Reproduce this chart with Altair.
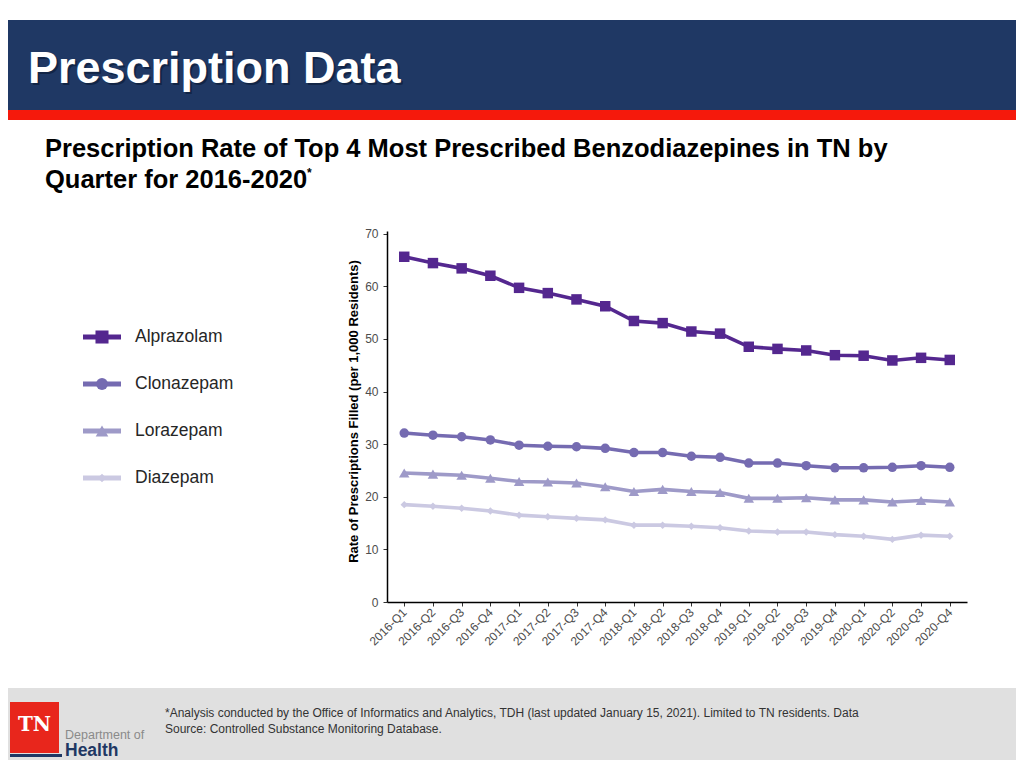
import altair as alt
import pandas as pd

# ---------------- data ----------------
quarters = ["2016-Q1", "2016-Q2", "2016-Q3", "2016-Q4",
            "2017-Q1", "2017-Q2", "2017-Q3", "2017-Q4",
            "2018-Q1", "2018-Q2", "2018-Q3", "2018-Q4",
            "2019-Q1", "2019-Q2", "2019-Q3", "2019-Q4",
            "2020-Q1", "2020-Q2", "2020-Q3", "2020-Q4"]
series_names = ["Alprazolam", "Clonazepam", "Lorazepam", "Diazepam"]
alprazolam = [65.6, 64.4, 63.4, 62.0, 59.7, 58.7, 57.5, 56.2, 53.4, 53.0,
              51.4, 51.0, 48.5, 48.1, 47.8, 46.9, 46.8, 45.9, 46.4, 46.0]
clonazepam = [32.1, 31.7, 31.4, 30.8, 29.8, 29.6, 29.5, 29.2, 28.4, 28.4,
              27.7, 27.5, 26.4, 26.4, 25.9, 25.5, 25.5, 25.6, 25.9, 25.6]
lorazepam = [24.5, 24.3, 24.1, 23.5, 22.9, 22.8, 22.6, 21.9, 21.0, 21.4,
             21.0, 20.8, 19.7, 19.7, 19.8, 19.4, 19.4, 19.0, 19.3, 19.0]
diazepam = [18.5, 18.2, 17.8, 17.3, 16.5, 16.2, 15.9, 15.6, 14.6, 14.6,
            14.4, 14.1, 13.5, 13.3, 13.3, 12.8, 12.5, 11.9, 12.7, 12.5]
y_ticks = [0, 10, 20, 30, 40, 50, 60, 70]

header_text = "Prescription Data"
subtitle_lines = ["Prescription Rate of Top 4 Most Prescribed Benzodiazepines in TN by",
                  "Quarter for 2016-2020"]
y_title = "Rate of Prescriptions Filled (per 1,000 Residents)"
footnote_lines = ["*Analysis conducted by the Office of Informatics and Analytics, TDH (last updated January 15, 2021). Limited to TN residents. Data",
                  "Source: Controlled Substance Monitoring Database."]

rows = []
for name, vals in zip(series_names, [alprazolam, clonazepam, lorazepam, diazepam]):
    for q, v in zip(quarters, vals):
        rows.append({"quarter": q, "series": name, "value": v})
df = pd.DataFrame(rows)
legend_df = pd.DataFrame({"series": series_names})

# ---------------- styles ----------------
FONT = "Liberation Sans"
series_colors = ["#54278f", "#756bb1", "#9e9ac8", "#cbc9e2"]
NAVY = "#1f3864"
color_scale = alt.Scale(domain=series_names, range=series_colors)
color_enc = alt.Color("series:N", scale=color_scale, legend=None)

shape_expr = ("datum.series === 'Alprazolam' ? 'square' : "
              "datum.series === 'Clonazepam' ? 'circle' : "
              "datum.series === 'Lorazepam' ? 'triangle-up' : 'diamond'")

one = pd.DataFrame({"k": [0]})


def rect(x1, x2, y1, y2, color):
    return alt.Chart(one).mark_rect(color=color).encode(
        x=alt.value(x1), x2=alt.value(x2), y=alt.value(y1), y2=alt.value(y2))


def text(s, x, y, **kw):
    return alt.Chart(pd.DataFrame({"t": [s]})).mark_text(
        baseline="alphabetic", **kw).encode(
        text="t:N", x=alt.value(x), y=alt.value(y))


decor = [
    rect(-387, 637, -211, -121, NAVY),
    rect(-387, 637, -121, -111, "#f5190c"),
    text(header_text, -357, -146, align="left", font=FONT, fontSize=45,
         fontWeight="bold", color="#0a1a33", opacity=0.6),
    text(header_text, -359, -148, align="left", font=FONT, fontSize=45,
         fontWeight="bold", color="white"),
    text(subtitle_lines[0], -342, -74, align="left", font=FONT, fontSize=25.5,
         fontWeight="bold", color="black"),
    text(subtitle_lines[1], -342, -43, align="left", font=FONT, fontSize=25.5,
         fontWeight="bold", color="black"),
    text("*", -80, -54, align="left", font=FONT, fontSize=12,
         fontWeight="bold", color="black"),
    rect(-387, 637, 457, 537, "#e0e0e0"),
    rect(-377, -328, 471, 522, "#e8261c"),
    rect(-377, -325, 523, 526, NAVY),
    text("TN", -352.5, 500, align="center", font="DejaVu Serif", fontSize=20,
         fontWeight="bold", color="white"),
    text("Department of", -322, 508, align="left", font=FONT, fontSize=12.5,
         color="#8a8a8a"),
    text("Health", -322, 525, align="left", font=FONT, fontSize=17.5,
         fontWeight="bold", color=NAVY),
    text(footnote_lines[0], -222, 486, align="left", font=FONT, fontSize=12,
         color="#333333"),
    text(footnote_lines[1], -222, 502, align="left", font=FONT, fontSize=12,
         color="#333333"),
]

# ---------------- main plot ----------------
x_enc = alt.X("quarter:N", sort=quarters,
              scale=alt.Scale(type="point", padding=0.6),
              axis=alt.Axis(title=None, labelAngle=-45, labelAlign="right",
                            labelBaseline="middle", labelPadding=4))
y_enc = alt.Y("value:Q", scale=alt.Scale(domain=[0, 70.5], nice=False),
              axis=alt.Axis(values=y_ticks, title=y_title, labelPadding=5,
                            titlePadding=4, titleY=180))

base = alt.Chart(df).encode(x=x_enc, y=y_enc, color=color_enc)
lines = base.mark_line(strokeWidth=3.6)

size_expr = ("datum.series === 'Alprazolam' ? 110 : "
             "datum.series === 'Clonazepam' ? 90 : "
             "datum.series === 'Lorazepam' ? 110 : 55")
points = base.transform_calculate(shp=shape_expr, sz=size_expr).mark_point(
    filled=True, opacity=1).encode(
    shape=alt.Shape("shp:N", scale=None, legend=None),
    size=alt.Size("sz:Q", scale=None, legend=None))

data_layer = alt.layer(lines, points)

# ---------------- legend (own point scale for rows) ----------------
legend_y = alt.Y("series:N", sort=series_names,
                 scale=alt.Scale(type="point", domain=series_names,
                                 range=[106, 247], padding=0),
                 axis=None)
lg_base = alt.Chart(legend_df).encode(y=legend_y, color=color_enc)
lg_rule = lg_base.mark_rule(strokeWidth=5).encode(
    x=alt.value(-304), x2=alt.value(-266))
lg_size_expr = ("datum.series === 'Alprazolam' ? 170 : "
                "datum.series === 'Clonazepam' ? 140 : "
                "datum.series === 'Lorazepam' ? 160 : 75")
lg_point = lg_base.transform_calculate(shp=shape_expr, sz=lg_size_expr).mark_point(
    filled=True, opacity=1).encode(
    x=alt.value(-285),
    shape=alt.Shape("shp:N", scale=None, legend=None),
    size=alt.Size("sz:Q", scale=None, legend=None))
lg_text = alt.Chart(legend_df).mark_text(
    align="left", baseline="middle", font=FONT, fontSize=17.5,
    color="#262626").encode(y=legend_y, x=alt.value(-252), text="series:N")
legend_layer = alt.layer(lg_rule, lg_point, lg_text)

chart = alt.layer(*decor, data_layer, legend_layer).resolve_scale(
    y="independent"
).properties(
    width=580, height=371,
    padding={"left": 379, "top": 223, "right": 49, "bottom": 158},
    autosize=alt.AutoSizeParams(type="none"),
    background="white",
).configure_view(stroke=None).configure_axis(
    grid=False, domainColor="black", domainWidth=1.5,
    tickColor="#333333", tickSize=4, tickWidth=1,
    labelFont=FONT, labelFontSize=12, labelColor="#4d4d4d",
    titleFont=FONT, titleFontSize=13, titleFontWeight="bold", titleColor="black",
)

chart.save("out.html", embed_options={"renderer": "svg", "actions": False})
